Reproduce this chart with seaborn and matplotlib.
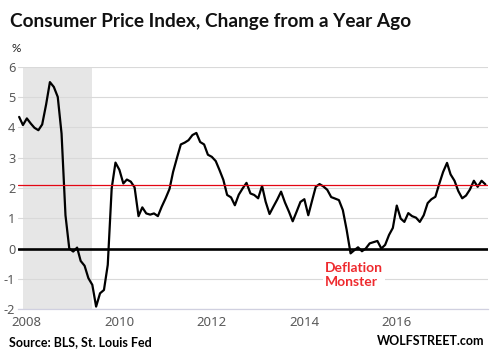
import numpy as np
import pandas as pd
import matplotlib
matplotlib.use("Agg")
import matplotlib.pyplot as plt
import matplotlib.dates as mdates
import seaborn as sns

# ---- data (Nov 2007 .. Dec 2017, monthly, % change y/y) ----
start_month = "2007-11-01"
end_month = "2017-12-01"
cpi_2007 = [4.35, 4.08]
cpi_2008 = [4.30, 4.13, 3.99, 3.91, 4.10, 4.76, 5.50, 5.34, 5.01, 3.80, 1.10, 0.00]
cpi_2009 = [-0.10, 0.03, -0.41, -0.57, -0.98, -1.20, -1.92, -1.48, -1.37, -0.54, 1.99, 2.84]
cpi_2010 = [2.60, 2.15, 2.28, 2.21, 2.02, 1.07, 1.36, 1.16, 1.12, 1.16, 1.07, 1.38]
cpi_2011 = [1.66, 1.97, 2.53, 3.00, 3.44, 3.50, 3.58, 3.75, 3.82, 3.52, 3.44, 3.10]
cpi_2012 = [3.03, 2.89, 2.60, 2.27, 1.77, 1.69, 1.43, 1.78, 1.99, 2.17, 1.82, 1.77]
cpi_2013 = [1.66, 2.07, 1.55, 1.14, 1.38, 1.62, 1.88, 1.52, 1.22, 0.90, 1.22, 1.54]
cpi_2014 = [1.63, 1.10, 1.55, 2.04, 2.13, 2.05, 1.94, 1.70, 1.65, 1.60, 1.27, 0.62]
cpi_2015 = [-0.16, -0.05, 0.04, -0.09, 0.00, 0.17, 0.21, 0.25, 0.00, 0.12, 0.45, 0.68]
cpi_2016 = [1.42, 0.99, 0.88, 1.17, 1.07, 1.02, 0.88, 1.10, 1.50, 1.63, 1.71, 2.13]
cpi_2017 = [2.53, 2.83, 2.45, 2.24, 1.90, 1.66, 1.75, 1.95, 2.24, 2.04, 2.24, 2.12]

recession_start = "2007-12-01"
recession_end = "2009-06-01"
latest_level = 2.1
y_ticks = [-2, -1, 0, 1, 2, 3, 4, 5, 6]
x_tick_years = [2008, 2010, 2012, 2014, 2016]

title = "Consumer Price Index, Change from a Year Ago"
unit_label = "%"
source_text = "Source: BLS, St. Louis Fed"
brand_text = "WOLFSTREET.com"
annotation_text = "Deflation\nMonster"

values = (cpi_2007 + cpi_2008 + cpi_2009 + cpi_2010 + cpi_2011 + cpi_2012 +
          cpi_2013 + cpi_2014 + cpi_2015 + cpi_2016 + cpi_2017)
dates = pd.date_range(start_month, end_month, freq="MS")
df = pd.DataFrame({"date": dates, "cpi": values})

# ---- style ----
sns.set_theme(style="white")
plt.rcParams["font.family"] = ["Lato", "DejaVu Sans"]
plt.rcParams["axes.unicode_minus"] = False

fig = plt.figure(figsize=(4.9, 3.64), dpi=100)
ax = fig.add_axes([0.037, 0.151, 0.959, 0.665])

ax.axvspan(pd.Timestamp(recession_start), pd.Timestamp(recession_end),
           color="#E6E6E6", zorder=0, lw=0)
for yv in y_ticks:
    if yv != 0:
        ax.axhline(yv, color="#D9D9D9", lw=0.8, zorder=0.5)

sns.lineplot(data=df, x="date", y="cpi", color="black", lw=1.6, ax=ax, zorder=3)
ax.axhline(0, color="black", lw=1.9, zorder=2)
ax.axhline(latest_level, color="#E30613", lw=0.9, zorder=4)

ax.set_ylim(-2, 6)
ax.set_xlim(pd.Timestamp("2007-10-24"), pd.Timestamp("2017-12-22"))
ax.set_yticks(y_ticks)
ax.set_xticks([pd.Timestamp(f"{y}-01-01") for y in x_tick_years])
ax.xaxis.set_major_formatter(mdates.DateFormatter("%Y"))
ax.set_xlabel("")
ax.set_ylabel("")

for side in ["top", "right", "left"]:
    ax.spines[side].set_visible(False)
ax.spines["bottom"].set_color("#D0D0E0")
ax.spines["bottom"].set_linewidth(0.9)
ax.tick_params(axis="y", length=0, pad=2, labelsize=9.2, labelcolor="#595959")
ax.tick_params(axis="x", length=4, width=0.8, color="#BFBFBF", pad=1,
               labelsize=9.5, labelcolor="#595959", direction="out")
for lab in ax.get_xticklabels() + ax.get_yticklabels():
    lab.set_fontfamily(["Noto Sans", "DejaVu Sans"])

ax.text(pd.Timestamp("2014-06-10"), -0.43, annotation_text, color="#EE2A2E",
        fontsize=10, fontweight="bold", va="top", ha="left", linespacing=1.25,
        bbox=dict(facecolor="white", edgecolor="none", pad=1.5), zorder=5)

fig.text(10 / 490, 1 - 22 / 364, title, fontsize=13.7, fontweight="bold",
         color="#111111", ha="left", va="center")
fig.text(12 / 490, 1 - 48 / 364, unit_label, fontsize=8.5, color="#222222",
         ha="left", va="center")
fig.text(9 / 490, 1 - 342 / 364, source_text, fontsize=9, fontweight="bold",
         color="black", ha="left", va="center")
fig.text(484 / 490, 1 - 341 / 364, brand_text, fontsize=9, fontweight="bold",
         color="black", ha="right", va="center")

fig.savefig("out.png", dpi=100)
